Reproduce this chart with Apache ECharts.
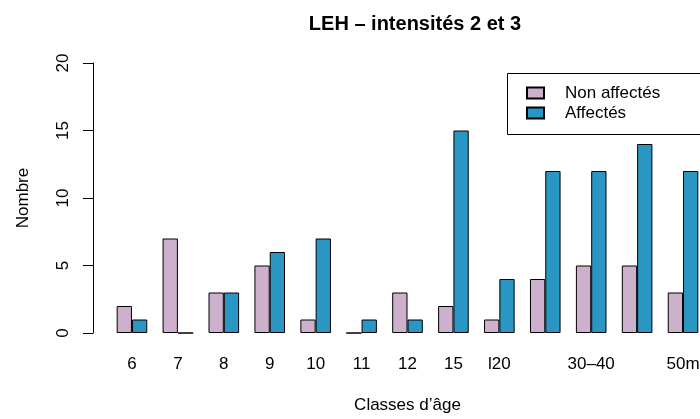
<!DOCTYPE html>
<html>
<head>
<meta charset="utf-8">
<script src="https://cdn.jsdelivr.net/npm/echarts@6/dist/echarts.min.js"></script>
<style>html,body{margin:0;padding:0;background:#fff;overflow:hidden;width:700px;height:419px;}#c{width:720px;height:419px;}</style>
</head>
<body>
<div id="c"></div>
<script>
const categories = ['6','7','8','9','10','11','12','15','l20','20\u201330','30\u201340','40\u201350','50m'];
const hiddenLabels = [9, 11];
const nonAffectes = [2,7,3,5,1,0,3,2,1,4,5,5,3];
const affectes = [1,0,3,6,7,1,1,15,4,12,12,14,12];
const yTicks = [0,5,10,15,20];

const font = 'Liberation Sans, Arial, Helvetica, sans-serif';
const chart = echarts.init(document.getElementById('c'), null, {renderer:'canvas'});
chart.setOption({
  animation: false,
  backgroundColor: '#fff',
  textStyle: {fontFamily: font},
  title: {
    text: 'LEH \u2013 intensit\u00e9s 2 et 3',
    left: 410, top: 9, textAlign: 'center',
    textStyle: {fontFamily: font, fontWeight: 'bold', fontSize: 20, color: '#000'}
  },
  grid: {left: 109, right: 14, top: 63, bottom: 83, containLabel: false},
  graphic: [{
    type: 'rect', z: 0, silent: true,
    shape: {x: 507.5, y: 73.5, width: 210, height: 61},
    style: {fill: '#fff', stroke: '#000', lineWidth: 1}
  }],
  legend: {
    orient: 'vertical', left: 526, top: 83, z: 10, padding: 0,
    itemWidth: 17, itemHeight: 11, itemGap: 0,
    icon: 'rect',
    textStyle: {fontFamily: font, fontSize: 17, color: '#000', lineHeight: 20, padding: [0,0,0,16]},
    data: ['Non affect\u00e9s', 'Affect\u00e9s']
  },
  xAxis: {
    type: 'category', data: categories,
    axisLine: {show: false}, axisTick: {show: false},
    axisLabel: {
      interval: function (i) { return hiddenLabels.indexOf(i) < 0; },
      margin: 23, fontSize: 17, color: '#000', fontFamily: font
    },
    name: 'Classes d\u2019\u00e2ge', nameLocation: 'middle', nameGap: 64,
    nameTextStyle: {fontSize: 17, color: '#000', fontFamily: font}
  },
  yAxis: {
    type: 'value', min: yTicks[0], max: yTicks[yTicks.length-1], interval: 5,
    offset: 16,
    splitLine: {show: false},
    axisLine: {show: true, lineStyle: {color: '#000', width: 1}},
    axisTick: {show: true, length: 10, lineStyle: {color: '#000'}},
    axisLabel: {rotate: 90, margin: 21, fontSize: 17, color: '#000', fontFamily: font,
                align: 'center', verticalAlign: 'bottom'},
    name: 'Nombre', nameLocation: 'middle', nameGap: 61, nameRotate: 90,
    nameTextStyle: {fontSize: 17, color: '#000', fontFamily: font}
  },
  series: [
    {name: 'Non affect\u00e9s', type: 'bar', data: nonAffectes, barWidth: 15.3, barGap: '0%',
     itemStyle: {color: '#CDB0CC', borderColor: '#000', borderWidth: 1}},
    {name: 'Affect\u00e9s', type: 'bar', data: affectes, barWidth: 15.3, barGap: '0%',
     itemStyle: {color: '#2A96C4', borderColor: '#000', borderWidth: 1}}
  ]
});
</script>
</body>
</html>
